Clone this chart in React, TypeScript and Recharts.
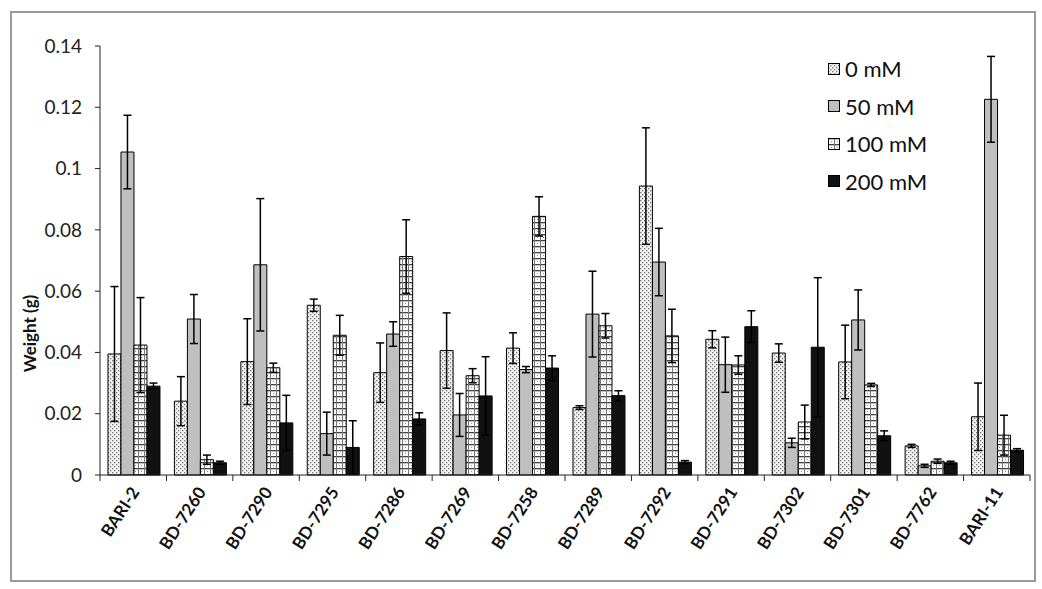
import React from 'react';
import { BarChart, Bar, XAxis, YAxis, ErrorBar, Legend } from 'recharts';

const categories = ['BARI-2', 'BD-7260', 'BD-7290', 'BD-7295', 'BD-7286', 'BD-7269', 'BD-7258', 'BD-7289', 'BD-7292', 'BD-7291', 'BD-7302', 'BD-7301', 'BD-7762', 'BARI-11'];

const mM0 = [0.0395, 0.0241, 0.037, 0.0554, 0.0334, 0.0406, 0.0414, 0.022, 0.0943, 0.0443, 0.0398, 0.0369, 0.0095, 0.019];
const mM50 = [0.1054, 0.0509, 0.0686, 0.0135, 0.046, 0.0196, 0.0344, 0.0525, 0.0695, 0.036, 0.0105, 0.0506, 0.003, 0.1226];
const mM100 = [0.0424, 0.005, 0.035, 0.0456, 0.0713, 0.0324, 0.0844, 0.0487, 0.0454, 0.0359, 0.0173, 0.0294, 0.0045, 0.013];
const mM200 = [0.029, 0.004, 0.017, 0.009, 0.0183, 0.0258, 0.0349, 0.0259, 0.0042, 0.0484, 0.0417, 0.0128, 0.004, 0.0081];

const err0 = [0.022, 0.008, 0.014, 0.002, 0.0097, 0.0123, 0.005, 0.0006, 0.019, 0.0028, 0.003, 0.012, 0.0005, 0.011];
const err50 = [0.012, 0.008, 0.0216, 0.007, 0.004, 0.007, 0.001, 0.014, 0.011, 0.009, 0.0015, 0.0098, 0.0005, 0.014];
const err100 = [0.0155, 0.0015, 0.0015, 0.0065, 0.012, 0.0023, 0.0064, 0.004, 0.0087, 0.003, 0.0055, 0.0005, 0.0007, 0.0065];
const err200 = [0.001, 0.0005, 0.009, 0.0087, 0.002, 0.0128, 0.004, 0.0016, 0.0005, 0.0052, 0.0227, 0.0016, 0.0005, 0.0005];

const yTicks = [0, 0.02, 0.04, 0.06, 0.08, 0.1, 0.12, 0.14];
const seriesNames = ['0 mM', '50 mM', '100 mM', '200 mM'];

const data = categories.map((c, i) => ({
  name: c,
  m0: mM0[i], e0: err0[i],
  m50: mM50[i], e50: err50[i],
  m100: mM100[i], e100: err100[i],
  m200: mM200[i], e200: err200[i],
}));

const series = [
  { key: 'm0', err: 'e0', name: seriesNames[0], fill: 'url(#p0)' },
  { key: 'm50', err: 'e50', name: seriesNames[1], fill: '#bfbfbf' },
  { key: 'm100', err: 'e100', name: seriesNames[2], fill: 'url(#p100)' },
  { key: 'm200', err: 'e200', name: seriesNames[3], fill: '#111111' },
];

const W = 1042;
const H = 589;
const MARGIN = { top: 46, right: 12, bottom: 0, left: 0 };
const YAXIS_W = 100;
const XAXIS_H = 114;
const BAND = (W - MARGIN.left - MARGIN.right - YAXIS_W) / categories.length;
const FONT = 'Lato, "Open Sans", sans-serif';

const XTick = (props: any) => {
  const { x, y, payload, index } = props;
  const half = BAND / 2;
  const ax = x + 7;
  const ay = y + 17;
  return (
    <g>
      <line x1={x - half} x2={x - half} y1={y} y2={y + 6} stroke="#222" strokeWidth={1} />
      {index === categories.length - 1 && (
        <line x1={x + half} x2={x + half} y1={y} y2={y + 6} stroke="#222" strokeWidth={1} />
      )}
      <text
        x={ax}
        y={ay}
        textAnchor="end"
        transform={`rotate(-57, ${ax}, ${ay})`}
        fontFamily={FONT}
        fontWeight={700}
        fontSize={17}
        fill="#111"
      >
        {payload.value}
      </text>
    </g>
  );
};

const YLabel = (props: any) => {
  const { viewBox } = props;
  const x = 36;
  const y = viewBox.y + viewBox.height * 0.67;
  return (
    <text
      x={x}
      y={y}
      textAnchor="middle"
      transform={`rotate(-90, ${x}, ${y})`}
      fontFamily={FONT}
      fontWeight={700}
      fontSize={17}
      fill="#111"
    >
      Weight (g)
    </text>
  );
};

const LegendContent = () => (
  <div style={{ fontFamily: FONT, fontSize: 22, color: '#111' }}>
    {series.map((s) => (
      <div key={s.key} style={{ display: 'flex', alignItems: 'center', height: 37.5 }}>
        <svg width={12} height={12} style={{ display: 'block' }}>
          <rect x={0.5} y={0.5} width={11} height={11} fill={s.fill} stroke="#000" strokeWidth={1} />
        </svg>
        <span style={{ marginLeft: 5 }}>{s.name}</span>
      </div>
    ))}
  </div>
);

export default function App() {
  return (
    <div style={{ position: 'absolute', left: 0, top: 0, width: W, height: H, background: '#fff' }}>
      <svg width={0} height={0} style={{ position: 'absolute' }}>
        <defs>
          <pattern id="p0" patternUnits="userSpaceOnUse" width={4} height={4}>
            <rect x={0} y={0} width={4} height={4} fill="#f2f2f2" />
            <rect x={0} y={0} width={1.3} height={1.3} fill="#7a7a7a" />
            <rect x={2} y={2} width={1.3} height={1.3} fill="#7a7a7a" />
          </pattern>
          <pattern id="p100" patternUnits="userSpaceOnUse" width={6} height={6}>
            <rect x={0} y={0} width={6} height={6} fill="#fafafa" />
            <rect x={0} y={0} width={6} height={1.3} fill="#444" />
            <rect x={0} y={0} width={1} height={6} fill="#777" />
            <rect x={3} y={3} width={1} height={1} fill="#999" />
          </pattern>
        </defs>
      </svg>
      <div
        style={{
          position: 'absolute',
          left: 10,
          top: 11,
          width: 1026,
          height: 571,
          border: '2px solid #9a9a9a',
          boxSizing: 'border-box',
        }}
      />
      <div style={{ position: 'absolute', left: 0, top: 0 }}>
        <BarChart width={W} height={H} data={data} margin={MARGIN} barCategoryGap="12%" barGap={0}>
          <XAxis
            dataKey="name"
            height={XAXIS_H}
            tickLine={false}
            tickSize={0}
            tickMargin={0}
            interval={0}
            axisLine={{ stroke: '#222', strokeWidth: 1 }}
            tick={<XTick />}
          />
          <YAxis
            width={YAXIS_W}
            domain={[0, 0.14]}
            ticks={yTicks}
            interval={0}
            tickSize={5}
            tickMargin={13}
            tickFormatter={(v: number) => (v === 0 ? '0' : String(+v.toFixed(2)))}
            axisLine={{ stroke: '#222', strokeWidth: 1 }}
            tickLine={{ stroke: '#222', strokeWidth: 1 }}
            tick={{ fontFamily: FONT, fontSize: 19, fill: '#222' }}
            label={<YLabel />}
          />
          <Legend
            layout="vertical"
            align="center"
            verticalAlign="middle"
            wrapperStyle={{ left: 828, top: 50, width: 150, height: 150 }}
            content={<LegendContent />}
          />
          {series.map((s) => (
            <Bar
              key={s.key}
              dataKey={s.key}
              name={s.name}
              fill={s.fill}
              stroke="#000"
              strokeWidth={1}
              isAnimationActive={false}
            >
              <ErrorBar dataKey={s.err} width={4} stroke="#000" strokeWidth={1.5} isAnimationActive={false} />
            </Bar>
          ))}
        </BarChart>
      </div>
    </div>
  );
}
